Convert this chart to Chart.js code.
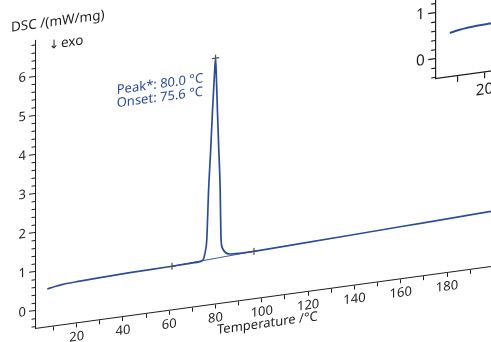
<!DOCTYPE html>
<html>
<head>
<meta charset="utf-8">
<script src="https://cdn.jsdelivr.net/npm/chart.js@4.4.1/dist/chart.umd.min.js"></script>
<style>
  html, body { margin: 0; padding: 0; background: #fff; overflow: hidden; width: 491px; height: 342px; }
  .plot { position: absolute; width: 491px; height: 380px; }
  #main { left: 0; top: 0; }
  /* the small copy in the top right corner is the same plot, magnified */
  #zoomed { left: 393.7px; top: -307.7px; transform: scale(1.18); transform-origin: 0 0; }
</style>
</head>
<body>
<div class="plot" id="main"><canvas id="dsc"></canvas></div>
<div class="plot" id="zoomed"><canvas id="dscZoom"></canvas></div>
<script>
// DSC curve, temperature in °C and signal in mW/mg
const tempC = [7.3, 10.6, 14.1, 21.4, 30.1, 43.0, 61.2, 69.0, 73.3, 74.0, 74.6, 75.1, 75.7, 76.2, 77.0, 77.9, 78.7, 79.4,
  80.0, 80.4, 80.8, 81.4, 82.0, 82.2, 82.4, 82.8, 83.4, 84.3, 85.5, 88.4, 92.0, 96.6, 116.5, 138.1, 159.7, 181.3, 199.0];
const dsc = [0.520, 0.557, 0.583, 0.606, 0.628, 0.652, 0.667, 0.680, 0.690, 0.700, 0.725, 0.800, 0.968, 1.219, 2.492, 3.509, 4.526, 5.288,
  5.840, 5.280, 4.509, 3.481, 2.452, 1.683, 1.170, 0.987, 0.906, 0.834, 0.790, 0.770, 0.762, 0.765, 0.800, 0.841, 0.884, 0.925, 0.962];

// evaluation marks: integration limits and peak
const markT = [61.2, 80.0, 96.6];
const markV = [0.667, 5.840, 0.765];
// integration baseline
const baseT = [61.2, 96.6];
const baseV = [0.667, 0.765];

const xTicks = [10, 20, 30, 40, 50, 60, 70, 80, 90, 100, 110, 120, 130, 140, 150, 160, 170, 180, 190];
const xLabels = [20, 40, 60, 80, 100, 120, 140, 160, 180];
const yTicks = [0, 1, 2, 3, 4, 5, 6];
const peakText = ['Peak*: 80.0 °C', 'Onset: 75.6 °C'];

const SKEW = 0.136;
const FONT = '"Noto Sans", sans-serif';
const INK = '#1e1e1e';
const BLUE = '#2c4b9b';

const pairs = (xs, ys) => xs.map((x, i) => ({ x: x, y: ys[i] }));

// draws the whole plot in a sheared plane, like the 3D view of the original
const plane = {
  id: 'plane',
  beforeDraw(chart) {
    const ctx = chart.ctx;
    ctx.save();
    ctx.transform(1, -SKEW, 0, 1, 0, SKEW * chart.chartArea.left);
  },
  afterDraw(chart) {
    const ctx = chart.ctx;
    const y = chart.scales.y;

    // minor ticks on the y axis
    ctx.strokeStyle = INK;
    ctx.lineWidth = 1;
    ctx.beginPath();
    for (let i = -2; i <= 34; i++) {
      if (i % 5 === 0) continue;
      const py = y.getPixelForValue(i / 5);
      if (py < y.top || py > y.bottom) continue;
      ctx.moveTo(y.right - 3.5, py);
      ctx.lineTo(y.right, py);
    }
    ctx.stroke();

    ctx.textAlign = 'left';
    ctx.textBaseline = 'alphabetic';
    ctx.fillStyle = INK;
    ctx.font = '13.5px ' + FONT;
    ctx.fillText('DSC /(mW/mg)', 11, 28.5);
    ctx.font = '12px "DejaVu Sans"';
    ctx.fillText('↓', 49, 51);
    ctx.font = '13.5px ' + FONT;
    ctx.fillText('exo', 61, 51);
    ctx.font = '13px ' + FONT;
    ctx.fillText('Temperature /°C', 217, 358.8);

    ctx.fillStyle = BLUE;
    ctx.fillText(peakText[0], 116.7, 105.1);
    ctx.fillText(peakText[1], 116.7, 118.4);

    ctx.restore();
  }
};

function dscChart(id, ratio) {
  return new Chart(document.getElementById(id), {
    type: 'scatter',
    data: {
      datasets: [
        {
          label: 'marks',
          data: pairs(markT, markV),
          showLine: false,
          pointStyle: 'cross',
          pointRadius: 3.5,
          pointBorderColor: '#505050',
          pointBorderWidth: 1.2,
          order: 0
        },
        {
          label: 'DSC',
          data: pairs(tempC, dsc),
          showLine: true,
          borderColor: BLUE,
          borderWidth: 1.7,
          pointRadius: 0,
          cubicInterpolationMode: 'monotone',
          order: 1
        },
        {
          label: 'baseline',
          data: pairs(baseT, baseV),
          showLine: true,
          borderColor: BLUE,
          borderWidth: 0.9,
          pointRadius: 0,
          order: 2
        }
      ]
    },
    options: {
      responsive: true,
      maintainAspectRatio: false,
      animation: false,
      devicePixelRatio: ratio,
      events: [],
      layout: { autoPadding: false, padding: { top: 40, left: 0, right: 0, bottom: 0 } },
      plugins: { legend: { display: false }, tooltip: { enabled: false }, title: { display: false } },
      scales: {
        x: {
          type: 'linear',
          min: 2,
          max: 199,
          afterFit: s => { s.height = 52; s.paddingLeft = 0; s.paddingRight = 0; },
          afterBuildTicks: s => { s.ticks = xTicks.map(v => ({ value: v })); },
          ticks: {
            autoSkip: false,
            maxRotation: 0,
            padding: 2,
            color: INK,
            font: { family: FONT, size: 13 },
            callback: v => xLabels.includes(v) ? String(v) : ''
          },
          grid: { drawOnChartArea: false, tickLength: 5, color: INK },
          border: { color: INK }
        },
        y: {
          type: 'linear',
          min: -0.435,
          max: 6.93,
          afterFit: s => { s.width = 35; s.paddingTop = 0; s.paddingBottom = 0; },
          afterBuildTicks: s => { s.ticks = yTicks.map(v => ({ value: v })); },
          ticks: {
            padding: 3,
            color: INK,
            font: { family: FONT, size: 13 },
            callback: v => String(v)
          },
          grid: { drawOnChartArea: false, tickLength: 6, color: INK },
          border: { color: INK }
        }
      }
    },
    plugins: [plane]
  });
}

dscChart('dsc', 1);
dscChart('dscZoom', 1.18);
</script>
</body>
</html>
